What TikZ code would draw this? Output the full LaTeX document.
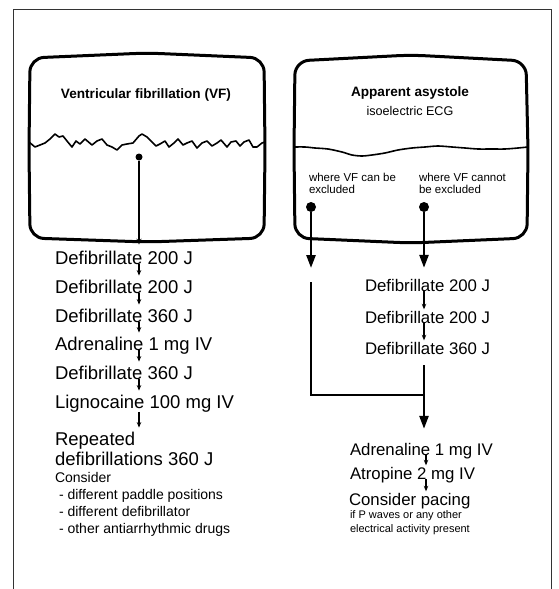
\documentclass[tikz,border=0pt]{standalone}
\usepackage{fontspec}
\setmainfont{Liberation Sans}
\usetikzlibrary{arrows.meta,calc}

\begin{document}
\begin{tikzpicture}[x=1pt, y=-1pt,
				every node/.style={inner sep=0pt, outer sep=0pt},
				stepL/.style={anchor=base west, align=left, font=\fontsize{18.5}{20}\selectfont},
				stepR/.style={anchor=base west, align=left, font=\fontsize{16.8}{18}\selectfont},
				smalltext/.style={anchor=base west, align=left},
				title/.style={anchor=base, font=\bfseries\fontsize{13.6}{15}\selectfont},
				screen/.style={line width=3pt, rounded corners=14pt},
				trace/.style={line width=1.6pt, line join=round},
				blob/.style={circle, fill, minimum size=#1},
				thinarrow/.style={line width=1.1pt, -{Stealth[length=5.5pt,width=4.5pt]}},
				bigline/.style={line width=2.5pt},
				bigarrow/.style={line width=2.5pt, -{Triangle[length=13pt,width=9pt]}}]
				\useasboundingbox (0,0) rectangle (558,589);
				\draw[line width=1pt, black!80] (13,589) |- (551,9) -- (551,589);
				
				\draw[screen] (29,150) -- (30,58) -- (147,53) -- (264,58) -- (265,150) -- (264,238) -- (147,242) -- (30,238) -- cycle;
				\draw[screen] (294,150) -- (295,61) -- (411,55) -- (526,61) -- (528,150) -- (527,238) -- (411,243) -- (295,238) -- cycle;
				
				\draw[trace] (29,142) -- (35,147) -- (40,145) -- (45,143) -- (50,139) -- (55,134) -- (59,137) -- (63,136) -- (67,141) -- (72,147) -- (76,141) -- (80,144) -- (85,139) -- (92,145) -- (97,141) -- (102,139) -- (107,145) -- (112,147) -- (117,150) -- (122,145) -- (127,144) -- (133,143) -- (139,136) -- (142,134) -- (147,137) -- (152,142) -- (156,146) -- (160,144) -- (165,141) -- (169,147) -- (174,143) -- (178,139) -- (183,145) -- (187,143) -- (192,141) -- (197,148) -- (202,143) -- (207,141) -- (212,146) -- (217,143) -- (221,140) -- (227,147) -- (231,142) -- (236,141) -- (240,146) -- (244,142) -- (249,140) -- (253,147) -- (257,147) -- (262,143) -- (265,142);
				\draw[trace] plot[smooth] coordinates {(294,147) (305,147) (315,148) (328,149) (342,152) (352,155) (362,156) (372,155) (385,153) (398,150) (412,148) (425,147) (438,146) (452,147) (465,148) (478,149) (492,149) (505,149) (518,148) (528,147)};
				
				\node[title] (vf) at (146,98) {Ventricular fibrillation (VF)};
				\node[title] (asy) at (410,96) {Apparent asystole};
				\node[anchor=base, font=\fontsize{12.6}{14}\selectfont] (ecg) at (410,115) {isoelectric ECG};
				\node[smalltext, font=\fontsize{11.5}{12}\selectfont] (can) at (309,193) {where VF can be\\excluded};
				\node[smalltext, font=\fontsize{11.5}{12}\selectfont] (cannot) at (419,193) {where VF cannot\\be excluded};
				
				\node[blob=7pt] (vfdot) at (139,157) {};
				\node[blob=10pt] (candot) at (311,207) {};
				\node[blob=10pt] (notdot) at (424,207) {};
				
				\node[stepL] (def1) at (55,264) {Defibrillate 200 J};
				\node[stepL] (def2) at (55,293) {Defibrillate 200 J};
				\node[stepL] (def3) at (55,322) {Defibrillate 360 J};
				\node[stepL] (adr) at (55,350) {Adrenaline 1 mg IV};
				\node[stepL] (def4) at (55,379) {Defibrillate 360 J};
				\node[stepL] (lig) at (55,408) {Lignocaine 100 mg IV};
				\node[stepL] (rep) at (55,465) {Repeated\\defibrillations 360 J};
				\node[smalltext, font=\fontsize{14}{17}\selectfont] (cons) at (55,533) {Consider\\\hspace*{4pt}- different paddle positions\\\hspace*{4pt}- different defibrillator\\\hspace*{4pt}- other antiarrhythmic drugs};
				
				\node[stepR] (rdef1) at (365,291) {Defibrillate 200 J};
				\node[stepR] (rdef2) at (365,323) {Defibrillate 200 J};
				\node[stepR] (rdef3) at (365,354) {Defibrillate 360 J};
				\node[stepR] (radr) at (350,455) {Adrenaline 1 mg IV};
				\node[stepR] (atro) at (350,479) {Atropine 2 mg IV};
				\node[stepR] (pace) at (349,505) {Consider pacing};
				\node[smalltext, font=\fontsize{11}{14}\selectfont] (pnote) at (350,532) {if P waves or any other\\electrical activity present};
				
				\draw[line width=1.3pt, -{Stealth[length=6pt,width=5pt]}, shorten >=6pt] (vfdot) -- (vfdot |- def1.north);
				\draw[thinarrow, shorten >=4pt] (def1.base -| vfdot) -- (def2.north -| vfdot);
				\draw[thinarrow, shorten >=4pt] (def2.base -| vfdot) -- (def3.north -| vfdot);
				\draw[thinarrow, shorten >=4pt] (def3.base -| vfdot) -- (adr.north -| vfdot);
				\draw[thinarrow, shorten >=4pt] (adr.base -| vfdot) -- (def4.north -| vfdot);
				\draw[thinarrow, shorten >=4pt] (def4.base -| vfdot) -- (lig.north -| vfdot);
				\draw[thinarrow, shorten >=4pt] (lig.south -| vfdot) -- (rep.north -| vfdot);
				
				\coordinate (canend) at (311,268);
				\coordinate (canstart) at (311,282);
				\coordinate (join) at (424,395);
				\draw[bigarrow] (candot) -- (canend);
				\draw[bigarrow, shorten >=11pt] (notdot) -- (notdot |- rdef1.north);
				\draw[bigline] (canstart) |- (join);
				\draw[bigarrow, shorten <=11pt, shorten >=14pt] (rdef3.base -| notdot) -- (radr.north -| notdot);
				
				\draw[thinarrow, shorten >=1.5pt] (rdef1.base -| notdot) -- (rdef2.north -| notdot);
				\draw[thinarrow, shorten >=1.5pt] (rdef2.base -| notdot) -- (rdef3.north -| notdot);
				\draw[thinarrow, shorten >=1.5pt] ($(radr.base -| notdot)+(2,0)$) -- ($(atro.north -| notdot)+(2,0)$);
				\draw[thinarrow, shorten >=1.5pt] ($(atro.base -| notdot)+(2,0)$) -- ($(pace.north -| notdot)+(2,0)$);
			\end{tikzpicture}
\end{document}
